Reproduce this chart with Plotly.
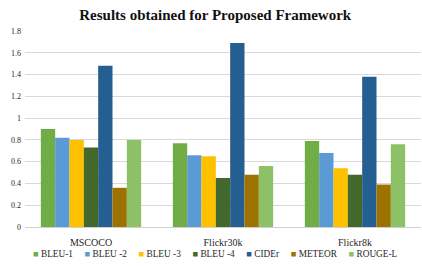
import plotly.graph_objects as go

categories = ["MSCOCO", "Flickr30k", "Flickr8k"]
series_names = ["BLEU-1", "BLEU -2", "BLEU -3", "BLEU -4", "CIDEr", "METEOR", "ROUGE-L"]
bleu1 = [0.90, 0.77, 0.79]
bleu2 = [0.82, 0.66, 0.68]
bleu3 = [0.80, 0.65, 0.54]
bleu4 = [0.73, 0.45, 0.48]
cider = [1.48, 1.69, 1.38]
meteor = [0.36, 0.48, 0.39]
rouge = [0.80, 0.56, 0.76]
tick_vals = [0, 0.2, 0.4, 0.6, 0.8, 1, 1.2, 1.4, 1.6, 1.8]
tick_text = ["0", "0.2", "0.4", "0.6", "0.8", "1", "1.2", "1.4", "1.6", "1.8"]

colors = ["#70AD47", "#5B9BD5", "#FFC000", "#43682B", "#255E91", "#9E7200", "#8CC168"]
values = [bleu1, bleu2, bleu3, bleu4, cider, meteor, rouge]

font = "Liberation Serif, Times New Roman, serif"
txt_color = "#262626"
fig = go.Figure()
for name, vals, c in zip(series_names, values, colors):
    fig.add_trace(go.Bar(name=name, x=categories, y=vals,
                         marker=dict(color=c, line=dict(width=0)), showlegend=False))

# compact legend (Excel-like) as one line of text with coloured squares
legend_text = "&nbsp;&nbsp;&nbsp;&nbsp;&nbsp;".join(
    f"<span style='color:{c}'>■</span>&nbsp;{n}" for n, c in zip(series_names, colors)
)
fig.add_annotation(text=legend_text, xref="paper", yref="paper", x=0.482, y=-0.138,
                   xanchor="center", yanchor="middle", showarrow=False,
                   font=dict(family=font, size=9.3, color=txt_color))

fig.update_layout(
    width=422, height=266,
    barmode="group", bargap=0.24, bargroupgap=0,
    paper_bgcolor="white", plot_bgcolor="white",
    margin=dict(l=25, r=1, t=31, b=39),
    title=dict(text="<b>Results obtained for Proposed Framework</b>", x=0.51, xanchor="center",
               y=0.944, yanchor="middle", font=dict(family=font, size=15, color="#111")),
    font=dict(family=font, size=9, color=txt_color),
    showlegend=False,
)
fig.update_xaxes(showgrid=False, showline=True, linecolor="#d0d0d0", linewidth=1,
                 tickfont=dict(family=font, size=10, color=txt_color), ticks="",
                 ticklabelstandoff=6, automargin=False)
fig.update_yaxes(range=[0, 1.8], tickvals=tick_vals, ticktext=tick_text, showgrid=True,
                 gridcolor="#d9d9d9", gridwidth=1, zeroline=False, ticks="",
                 tickfont=dict(family=font, size=8, color=txt_color), ticklabelstandoff=3,
                 automargin=False)
fig.write_html("out.html", config={"displayModeBar": False},
               post_script="document.body.style.margin='0';")
